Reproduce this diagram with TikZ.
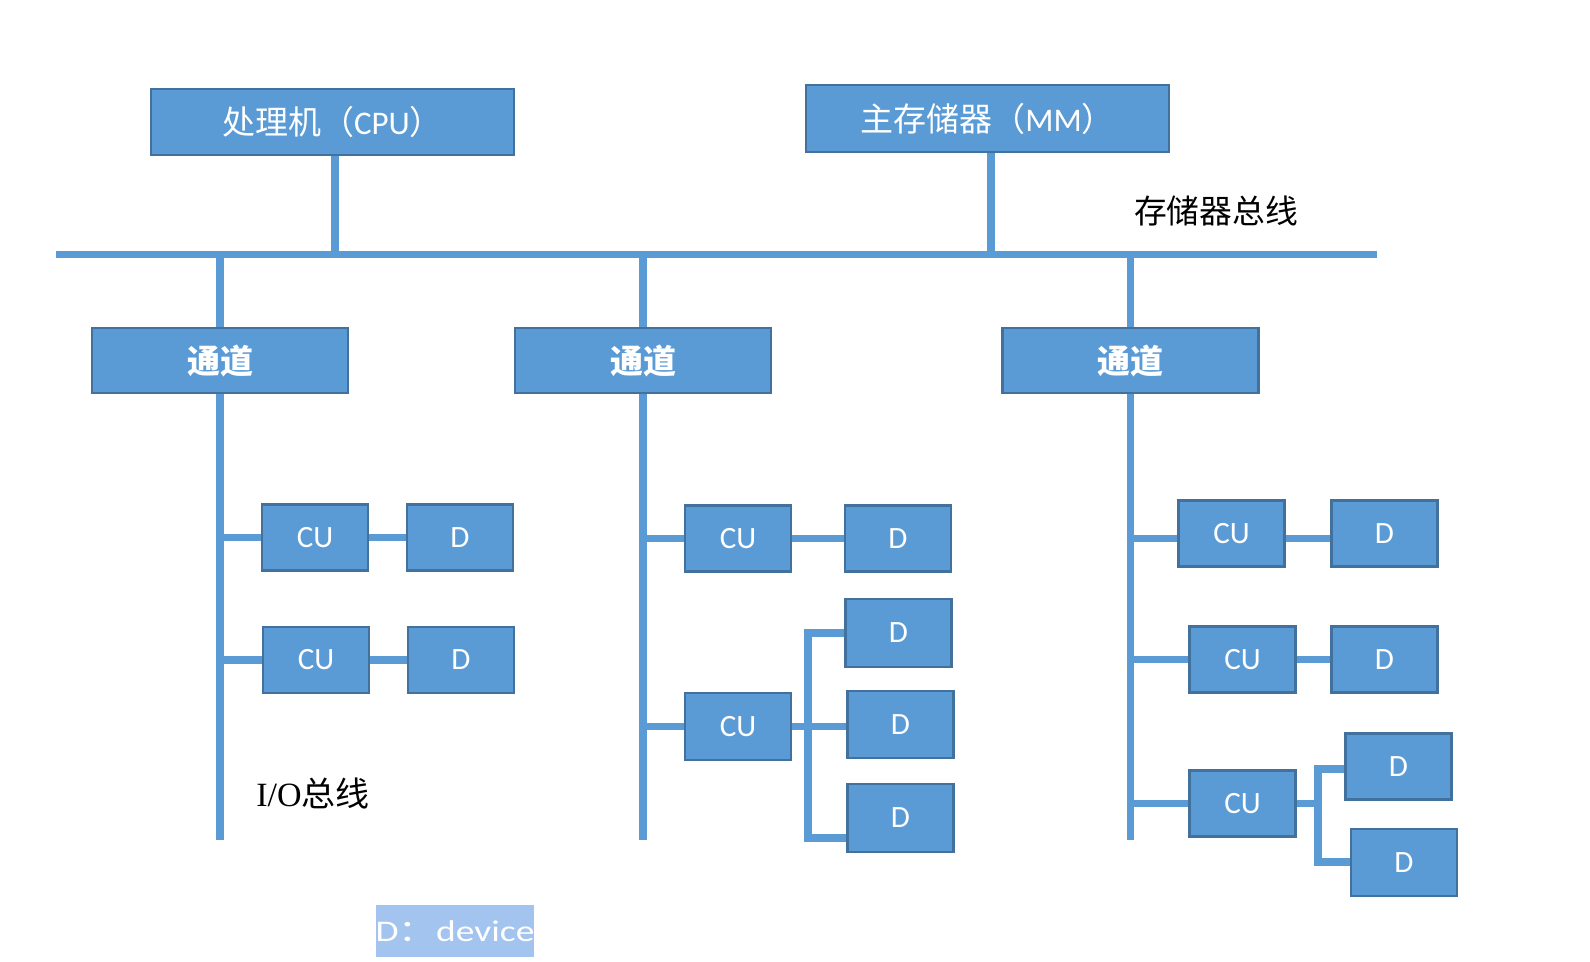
\documentclass[tikz,border=0pt]{standalone}
\usepackage{fontspec}
\newfontfamily\cjk{Noto Sans CJK SC}
\newfontfamily\carl{Carlito}
\newfontfamily\lserif{Liberation Serif}
\definecolor{boxblue}{HTML}{5B9BD5}
\definecolor{boxedge}{HTML}{41719C}
\definecolor{lightblue}{HTML}{A3C4EE}
\begin{document}
\begin{tikzpicture}[x=0.5pt,y=-0.5pt,
  box/.style={draw=boxedge, fill=boxblue, line width=1.2pt, text=white, inner sep=0pt},
  bigbox/.style={box, minimum width=181.5pt, minimum height=33pt, font=\cjk\fontsize{16.5}{19}\selectfont},
  chanbox/.style={box, minimum width=128pt, minimum height=32.5pt, font=\cjk\bfseries\fontsize{16.5}{19}\selectfont},
  unitbox/.style={box, minimum width=53pt, minimum height=33pt, font=\carl\fontsize{15.5}{18}\selectfont},
  wire/.style={draw=boxblue, line width=3.9pt}]
\useasboundingbox (0,0) rectangle (1590,962);

% top boxes
\node[bigbox] (cpu) at (332.5,122) {处理机（{\carl CPU}）};
\node[bigbox, minimum height=33.5pt] (mm) at (987.5,118.5) {主存储器（{\carl MM}）};

% memory bus
\coordinate (busL) at (56,254.5);
\coordinate (busR) at (1377,254.5);
\draw[wire] (busL) -- (busR);
\coordinate (cpuj) at (335,254.5);
\coordinate (mmj) at (991,254.5);
\draw[wire] (cpu.south -| cpuj) -- (cpuj);
\draw[wire] (mm.south -| mmj) -- (mmj);
\node[font=\cjk\fontsize{16.4}{19}\selectfont] (smb) at (1216,211) {存储器总线};

% channels
\node[chanbox] (ch1) at (220,360.5) {通道};
\node[chanbox] (ch2) at (643,360.5) {通道};
\node[chanbox] (ch3) at (1130.5,360.5) {通道};
\coordinate (e1) at (220,840);
\coordinate (e2) at (643,840);
\coordinate (e3) at (1130.5,840);
\foreach \c/\e in {ch1/e1, ch2/e2, ch3/e3}{
  \draw[wire] (\c.north |- busL) -- (\c.north);
  \draw[wire] (\c.south) -- (\e);
}

% left column
\node[unitbox] (lcu1) at (315,537.5) {CU};
\node[unitbox] (ld1) at (460,537.5) {D};
\node[unitbox] (lcu2) at (316,660) {CU};
\node[unitbox] (ld2) at (461,660) {D};
\draw[wire] (lcu1.west -| ch1.south) -- (lcu1.west);
\draw[wire] (lcu1.east) -- (ld1.west);
\draw[wire] (lcu2.west -| ch1.south) -- (lcu2.west);
\draw[wire] (lcu2.east) -- (ld2.west);
\node[font=\fontsize{17}{20}\selectfont] (iob) at (313,793) {{\lserif I/O}{\cjk 总线}};

% middle column
\node[unitbox] (mcu1) at (738,538.5) {CU};
\node[unitbox] (md1) at (898,538.5) {D};
\node[unitbox, minimum height=33.5pt] (mcu2) at (738,726.5) {CU};
\node[unitbox, minimum height=34pt] (mda) at (898.5,633) {D};
\node[unitbox, minimum height=33.5pt] (mdb) at (900.5,724.5) {D};
\node[unitbox, minimum height=34pt] (mdc) at (900.5,818) {D};
\draw[wire] (mcu1.west -| ch2.south) -- (mcu1.west);
\draw[wire] (mcu1.east) -- (md1.west);
\draw[wire] (mcu2.west -| ch2.south) -- (mcu2.west);
\draw[wire] (mcu2.east) -- (mcu2.east -| mdb.west);
\coordinate (mbt) at (808,633);
\coordinate (mbb) at (808,838);
\draw[wire] (mda.west) -- (mbt) -- (mbb) -- (mbb -| mdc.west);

% right column
\node[unitbox] (rcu1) at (1231.5,533.5) {CU};
\node[unitbox] (rd1) at (1384.5,533.5) {D};
\node[unitbox] (rcu2) at (1242.5,659.5) {CU};
\node[unitbox] (rd2) at (1384.5,659.5) {D};
\node[unitbox] (rcu3) at (1242.5,803.5) {CU};
\node[unitbox] (rd3a) at (1398.5,766.5) {D};
\node[unitbox, minimum height=33.5pt] (rd3b) at (1404,862.5) {D};
\draw[wire] ([yshift=-2.5pt]rcu1.west -| ch3.south) -- ([yshift=-2.5pt]rcu1.west);
\draw[wire] ([yshift=-2.5pt]rcu1.east) -- ([yshift=-2.5pt]rd1.west);
\draw[wire] (rcu2.west -| ch3.south) -- (rcu2.west);
\draw[wire] (rcu2.east) -- (rd2.west);
\draw[wire] (rcu3.west -| ch3.south) -- (rcu3.west);
\coordinate (rbt) at (1318,769);
\coordinate (rbb) at (1318,862);
\draw[wire] (rcu3.east) -- (rcu3.east -| rbt);
\draw[wire] (rbt -| rd3a.west) -- (rbt) -- (rbb) -- (rbb -| rd3b.west);

% legend
\node[fill=lightblue, minimum width=78pt, minimum height=26pt, inner sep=0pt, text=white,
      font=\carl\fontsize{15}{17}\selectfont] (leg) at (455,931) {\scalebox{1.25}[1]{D{\cjk ：}device}};
\end{tikzpicture}
\end{document}
